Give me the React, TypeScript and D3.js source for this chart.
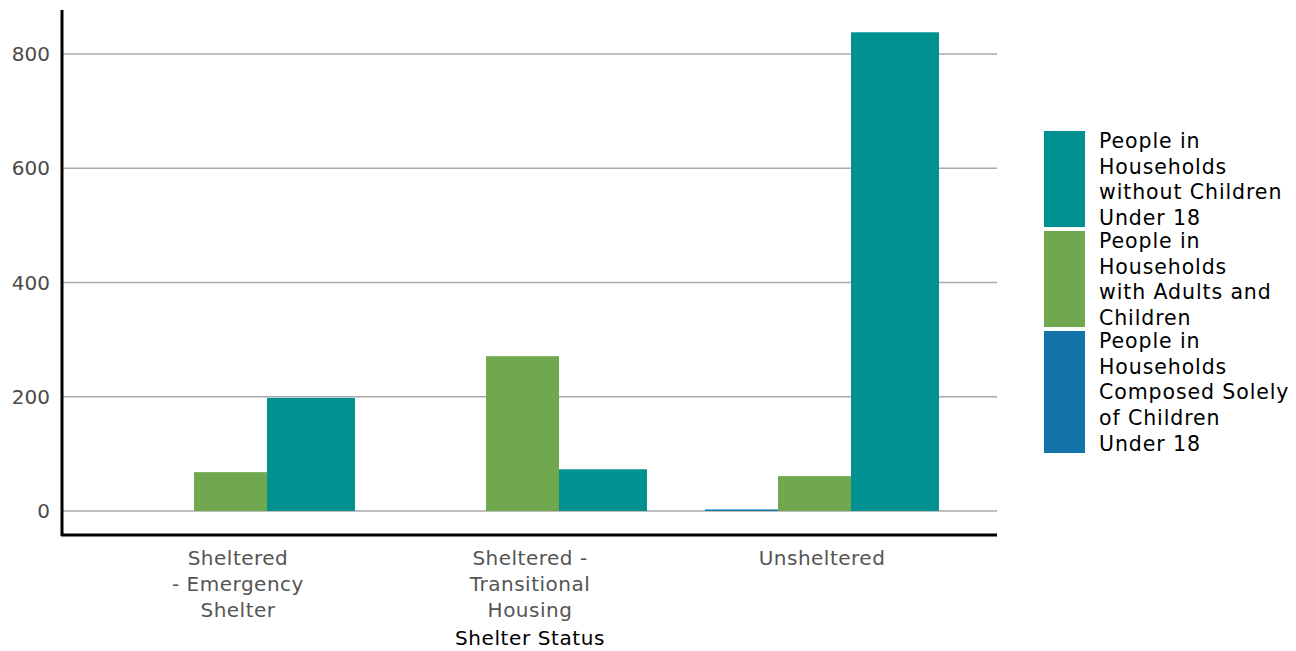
import React from "react";
import * as d3 from "d3";

const categories = ["Sheltered - Emergency Shelter", "Sheltered - Transitional Housing", "Unsheltered"];
const categoryLines = [["Sheltered", "- Emergency", "Shelter"], ["Sheltered -", "Transitional", "Housing"], ["Unsheltered"]];
const seriesNames = [
  "People in Households Composed Solely of Children Under 18",
  "People in Households with Adults and Children",
  "People in Households without Children Under 18",
];
const soleChildren = [0, 0, 2];
const adultsChildren = [68, 271, 61];
const withoutChildren = [198, 73, 838];
const yTicks = [0, 200, 400, 600, 800];
const legendItems = [
  { lines: ["People in", "Households", "without Children", "Under 18"], color: "#009190" },
  { lines: ["People in", "Households", "with Adults and", "Children"], color: "#70A84F" },
  { lines: ["People in", "Households", "Composed Solely", "of Children", "Under 18"], color: "#1473A8" },
];

const colors = ["#1473A8", "#70A84F", "#009190"];
const barWidths = [73, 73, 88];
const FONT = "'DejaVu Sans', Verdana, sans-serif";

export default function App() {
  const series = [soleChildren, adultsChildren, withoutChildren];
  const x = d3.scaleBand<string>().domain(categories).range([92, 968]).padding(0);
  const y = d3.scaleLinear().domain([0, 800]).range([511, 54]);
  const totalW = barWidths.reduce((a, b) => a + b, 0);

  return (
    <svg width={1296} height={651} style={{ position: "absolute", left: 0, top: 0 }}>
      <rect width={1296} height={651} fill="#fff" />
      {yTicks.map((t) => (
        <g key={t}>
          <line x1={63} x2={997} y1={y(t)} y2={y(t)} stroke="#aaaaaa" strokeWidth={1.3} />
          <text x={50} y={y(t)} dy="0.36em" textAnchor="end" fontSize={20} fill="#4a4a4a" fontFamily={FONT}>
            {t}
          </text>
        </g>
      ))}
      {categories.map((c, ci) => {
        const center = (x(c) as number) + x.bandwidth() / 2;
        let start = center - totalW / 2;
        return (
          <g key={c}>
            {series.map((s, si) => {
              const x0 = start;
              start += barWidths[si];
              const v = s[ci];
              if (v <= 0) return null;
              const h = Math.max(y(0) - y(v), 1.5);
              return <rect key={si} x={x0} y={y(0) - h} width={barWidths[si]} height={h} fill={colors[si]} />;
            })}
            {categoryLines[ci].map((l, li) => (
              <text key={li} x={center} y={565 + li * 26} textAnchor="middle" fontSize={20} letterSpacing={0.5} fill="#555" fontFamily={FONT}>
                {l}
              </text>
            ))}
          </g>
        );
      })}
      <line x1={62} x2={62} y1={10} y2={536} stroke="#000" strokeWidth={3} />
      <line x1={61} x2={997} y1={535} y2={535} stroke="#000" strokeWidth={3} />
      <text x={530} y={645} textAnchor="middle" fontSize={20} letterSpacing={0.6} fill="#000" fontFamily={FONT}>
        Shelter Status
      </text>
      {(() => {
        let top = 131;
        return legendItems.map((item, i) => {
          const h = item.lines.length === 5 ? 122 : 96;
          const t0 = top;
          top += h + 4;
          return (
            <g key={i}>
              <rect x={1044} y={t0} width={41} height={h} fill={item.color} />
              {item.lines.map((l, li) => (
                <text key={li} x={1099} y={t0 + 17 + li * 25.7} fontSize={20.5} letterSpacing={0.9} fill="#000" fontFamily={FONT}>
                  {l}
                </text>
              ))}
            </g>
          );
        });
      })()}
    </svg>
  );
}
